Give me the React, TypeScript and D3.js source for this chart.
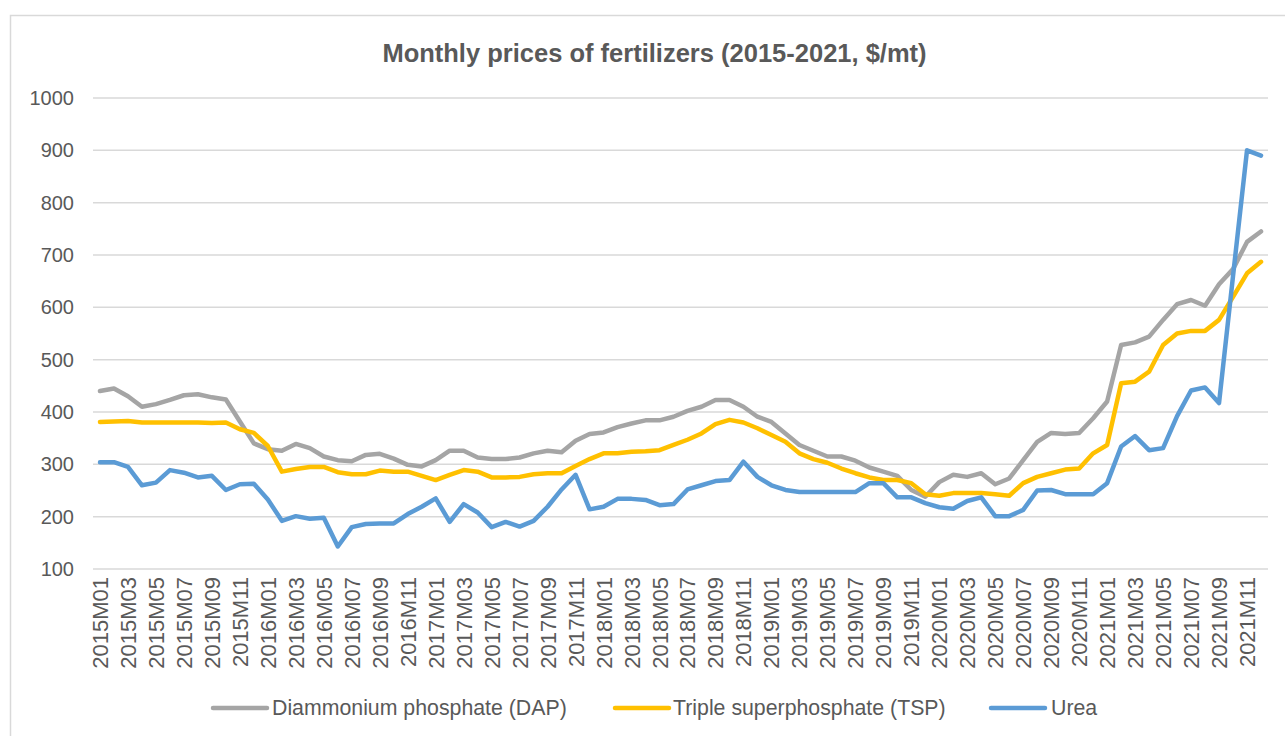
import React from "react";
import * as d3 from "d3";

const years = [2015, 2016, 2017, 2018, 2019, 2020, 2021];
const months = years.flatMap((y) => d3.range(1, 13).map((m) => `${y}M${String(m).padStart(2, "0")}`));

const dap = [
  440, 445, 430, 410, 415, 423, 432, 434, 428, 424, 382, 340,
  329, 326, 339, 331, 315, 308, 306, 318, 320, 311, 299, 296,
  308, 326, 326, 313, 310, 310, 313, 321, 326, 323, 345, 358,
  361, 371, 378, 384, 384, 391, 402, 410, 423, 423, 410, 391,
  381, 359, 337, 326, 315, 315, 307, 294, 286, 278, 251, 238,
  266, 280, 276, 283, 262, 273, 308, 343, 360, 358, 360, 388,
  420, 528, 533, 544, 576, 606, 614, 603, 644, 673, 725, 745,
];

const tsp = [
  381, 382, 383, 380, 380, 380, 380, 380, 379, 380, 367, 360,
  335, 286, 291, 295, 295, 285, 281, 281, 288, 286, 286, 278,
  270, 280, 289, 286, 275, 275, 276, 281, 283, 283, 297, 310,
  321, 321, 324, 325, 327, 337, 347, 359, 377, 385, 380, 369,
  356, 343, 321, 310, 303, 292, 283, 275, 270, 270, 264, 243,
  240, 245, 245, 245, 243, 240, 264, 276, 283, 290, 292, 321,
  337, 455, 458, 477, 528, 550, 555, 555, 576, 620, 665, 687,
];

const urea = [
  304, 304, 295, 260, 265, 289, 284, 275, 278, 251, 262, 263,
  233, 192, 201, 196, 198, 143, 180, 186, 187, 187, 205, 219,
  235, 190, 224, 208, 180, 190, 181, 192, 219, 252, 280, 214,
  219, 234, 234, 232, 222, 224, 252, 260, 268, 270, 305, 276,
  260, 251, 247, 247, 247, 247, 247, 264, 264, 237, 237, 226,
  218, 215, 230, 237, 201, 201, 213, 250, 251, 243, 243, 243,
  264, 334, 354, 327, 331, 392, 441, 447, 417, 660, 900, 890,
];

const yTicks = [100, 200, 300, 400, 500, 600, 700, 800, 900, 1000];
const seriesNames = ["Diammonium phosphate (DAP)", "Triple superphosphate (TSP)", "Urea"];
const seriesColors = ["#A5A5A5", "#FFC000", "#5B9BD5"];
const title = "Monthly prices of fertilizers (2015-2021, $/mt)";

const W = 1285;
const H = 736;
const FONT = "'Liberation Sans', Arial, sans-serif";
const TEXT = "#595959";
const GRID = "#d9d9d9";

export default function App() {
  const x = d3.scalePoint<string>().domain(months).range([93, 1268]).padding(0.5);
  const y = d3.scaleLinear().domain([100, 1000]).range([569, 98]);
  const series = [dap, tsp, urea];
  const line = d3
    .line<number>()
    .x((_, i) => x(months[i]) as number)
    .y((d) => y(d));

  const legendItems = [
    { lx: 213, tx: 272 },
    { lx: 615, tx: 673 },
    { lx: 991, tx: 1051 },
  ];

  return (
    <svg
      width={W}
      height={H}
      style={{ position: "absolute", left: 0, top: 0, background: "#fff" }}
      fontFamily={FONT}
    >
      <rect x={0} y={0} width={W} height={H} fill="#fff" />
      <rect x={10.5} y={15.5} width={W + 20} height={H + 20} fill="#fff" stroke={GRID} strokeWidth={1.5} />
      <text x={654.5} y={62} textAnchor="middle" fontSize={25.5} fontWeight="bold" fill={TEXT}>
        {title}
      </text>
      {yTicks.map((t) => (
        <g key={t}>
          <line x1={93} x2={1268} y1={y(t)} y2={y(t)} stroke={GRID} strokeWidth={1.5} />
          <text x={74} y={y(t)} dy="0.35em" textAnchor="end" fontSize={20} fill={TEXT}>
            {t}
          </text>
        </g>
      ))}
      {months.map((m, i) =>
        i % 2 === 0 ? (
          <text
            key={m}
            transform={`translate(${(x(m) as number) + 8},${577}) rotate(-90)`}
            textAnchor="end"
            fontSize={22}
            fill={TEXT}
          >
            {m}
          </text>
        ) : null
      )}
      {series.map((s, k) => (
        <path
          key={k}
          d={line(s) as string}
          fill="none"
          stroke={seriesColors[k]}
          strokeWidth={4.5}
          strokeLinejoin="round"
          strokeLinecap="round"
        />
      ))}
      {seriesNames.map((n, k) => (
        <g key={n}>
          <line
            x1={legendItems[k].lx}
            x2={legendItems[k].lx + 54}
            y1={708}
            y2={708}
            stroke={seriesColors[k]}
            strokeWidth={4.5}
            strokeLinecap="round"
          />
          <text x={legendItems[k].tx} y={708} dy="0.35em" fontSize={21.3} fill={TEXT}>
            {n}
          </text>
        </g>
      ))}
    </svg>
  );
}
